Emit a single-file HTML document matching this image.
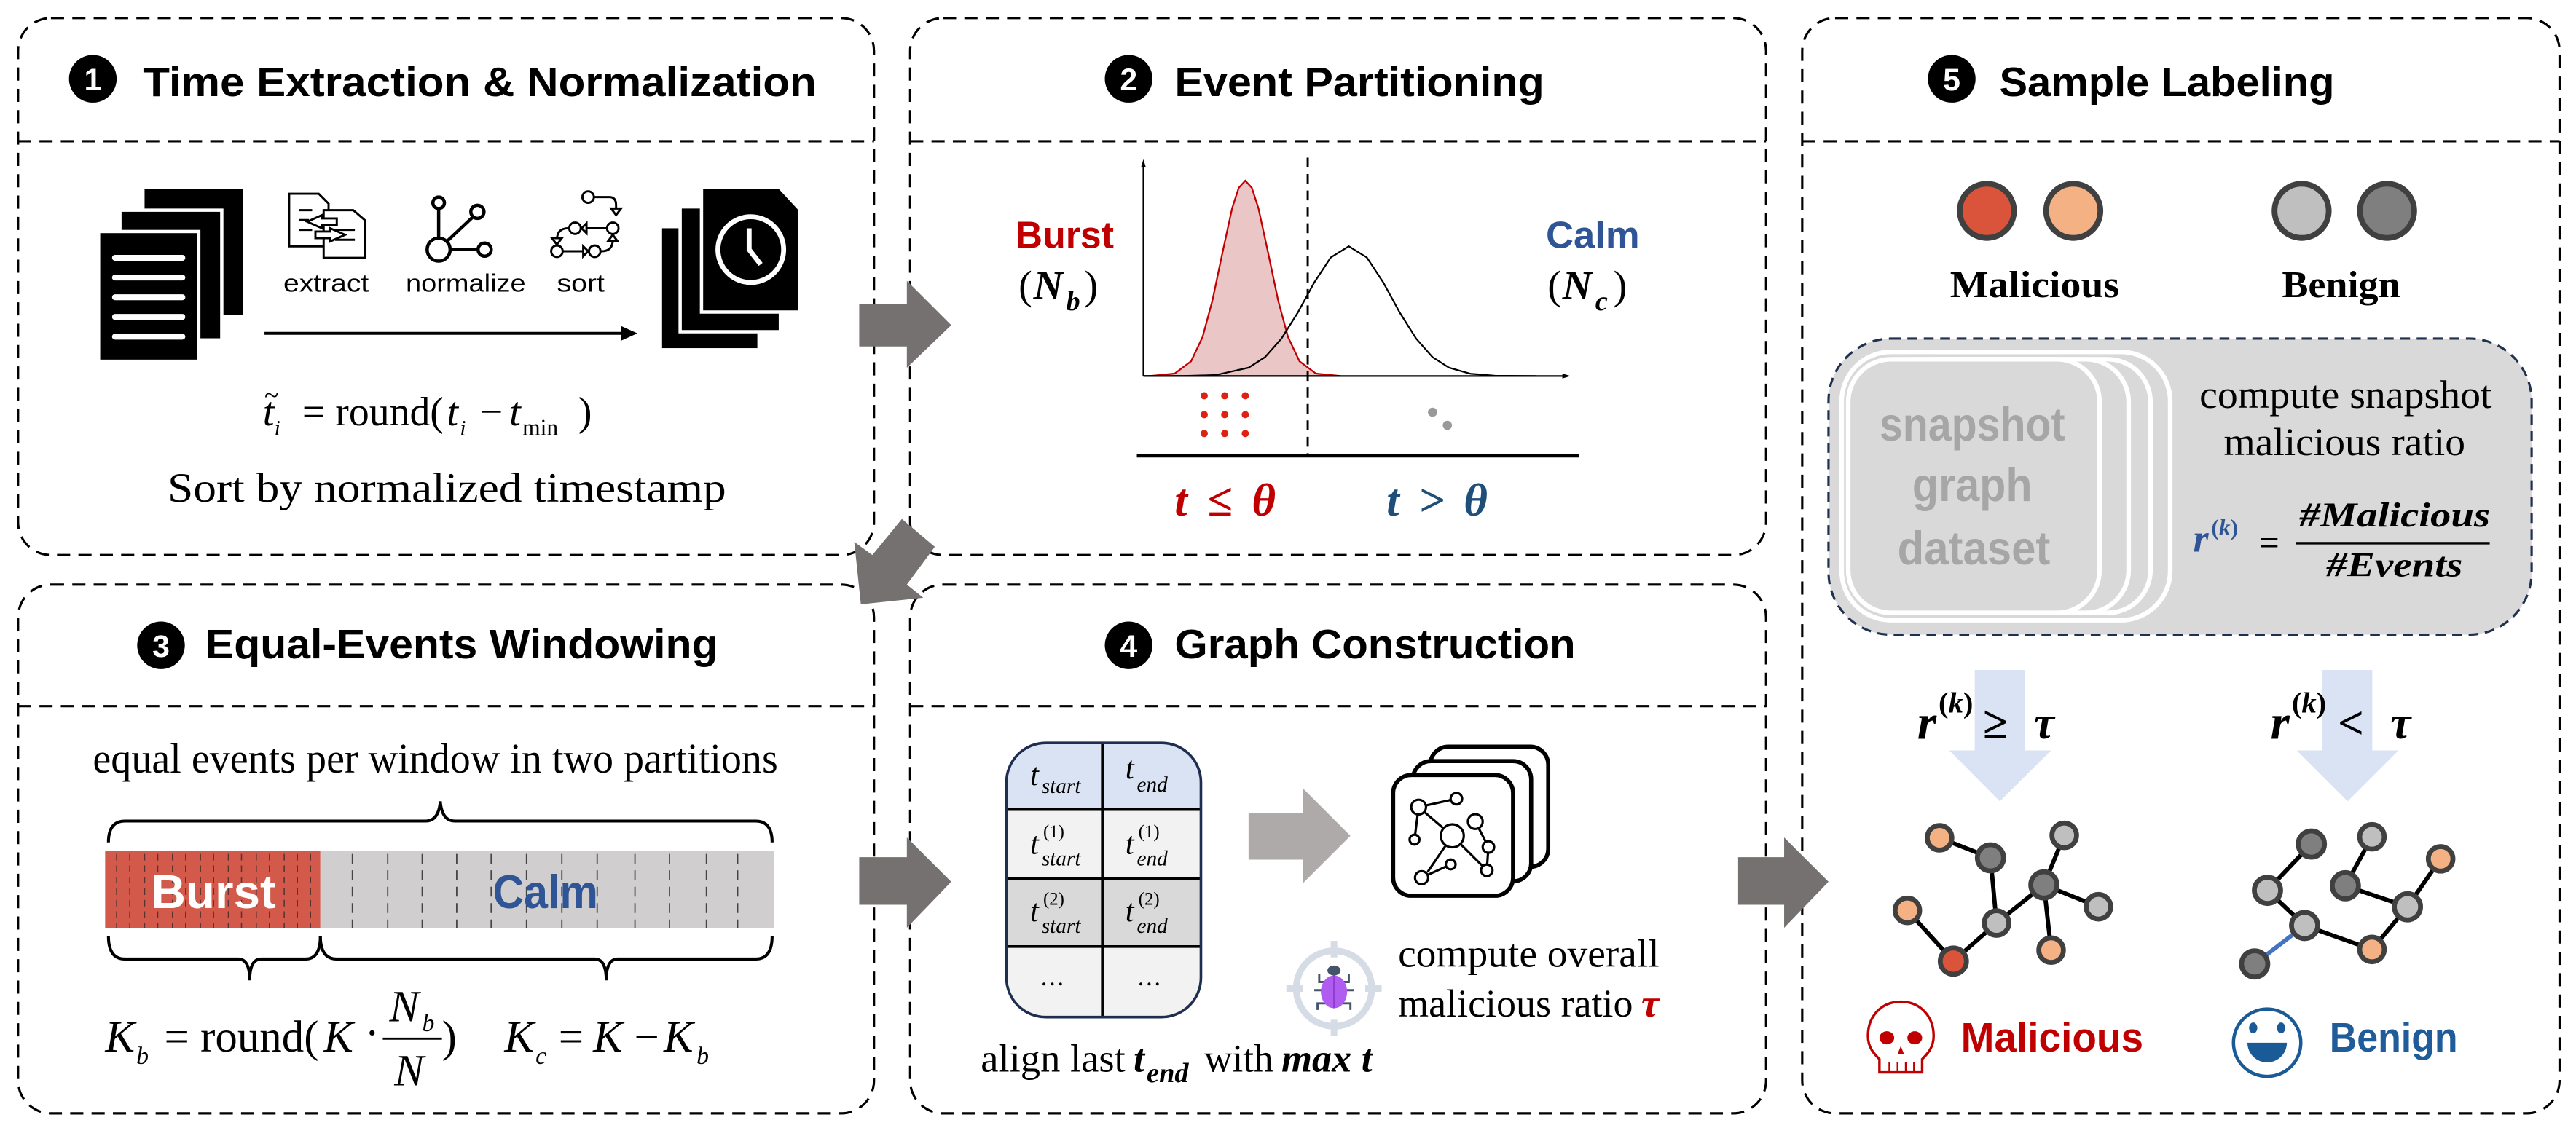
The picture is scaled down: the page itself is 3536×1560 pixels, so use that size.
<!DOCTYPE html>
<html><head><meta charset="utf-8"><style>
html,body{margin:0;padding:0;background:#fff;}
svg{display:block;}
.sans{font-family:"Liberation Sans",sans-serif;}
.serif{font-family:"Liberation Serif",serif;}
</style></head><body>
<svg width="3536" height="1560" viewBox="0 0 1568 691.8" preserveAspectRatio="none" xmlns="http://www.w3.org/2000/svg">
<rect x="0" y="0" width="1568" height="692" fill="#fff"/>
<!-- panels -->
<g fill="none" stroke="#000" stroke-width="1.4" stroke-dasharray="8,5">
<rect x="11" y="11" width="521" height="327" rx="20"/>
<line x1="11" y1="86" x2="532" y2="86"/>
<rect x="554" y="11" width="521" height="327" rx="20"/>
<line x1="554" y1="86" x2="1075" y2="86"/>
<rect x="11" y="356" width="521" height="322" rx="20"/>
<line x1="11" y1="430" x2="532" y2="430"/>
<rect x="554" y="356" width="521" height="322" rx="20"/>
<line x1="554" y1="430" x2="1075" y2="430"/>
<rect x="1097" y="11" width="461" height="667" rx="20"/>
<line x1="1097" y1="86" x2="1558" y2="86"/>
</g>
<!-- titles -->
<g class="sans" font-weight="bold" font-size="25" fill="#000">
<circle cx="56.5" cy="48" r="14.5"/><text x="56.5" y="55" font-size="19" fill="#fff" text-anchor="middle">1</text>
<text x="87" y="58.5" textLength="410" lengthAdjust="spacingAndGlyphs">Time Extraction &amp; Normalization</text>
<circle cx="687" cy="48" r="14.5"/><text x="687" y="55" font-size="19" fill="#fff" text-anchor="middle">2</text>
<text x="715" y="58.5" textLength="225" lengthAdjust="spacingAndGlyphs">Event Partitioning</text>
<circle cx="98" cy="393" r="14.5"/><text x="98" y="400" font-size="19" fill="#fff" text-anchor="middle">3</text>
<text x="125" y="401" textLength="312" lengthAdjust="spacingAndGlyphs">Equal-Events Windowing</text>
<circle cx="687" cy="393" r="14.5"/><text x="687" y="400" font-size="19" fill="#fff" text-anchor="middle">4</text>
<text x="715" y="401" textLength="244" lengthAdjust="spacingAndGlyphs">Graph Construction</text>
<circle cx="1188" cy="48" r="14.5"/><text x="1188" y="55" font-size="19" fill="#fff" text-anchor="middle">5</text>
<text x="1217" y="58.5" textLength="204" lengthAdjust="spacingAndGlyphs">Sample Labeling</text>
</g>

<!-- big connector arrows -->
<g fill="#767171">
<polygon points="523,185 552,185 552,171 579,198 552,224 552,211 523,211"/>
<polygon points="523,522 552,522 552,510 579,537 552,565 552,551 523,551"/>
<polygon points="1058,522 1086,522 1086,510 1113,537 1086,565 1086,551 1058,551"/>
<polygon points="549,316 569,333 552,356 562,364 524,368 520,330 531,338"/>
</g>

<!-- Panel 1 content -->
<g>
<rect x="88" y="115" width="60" height="77" fill="#000"/>
<rect x="72" y="127" width="64" height="81" fill="#fff"/>
<rect x="74" y="129" width="60" height="77" fill="#000"/>
<rect x="59" y="140" width="63" height="81" fill="#fff"/>
<rect x="61" y="142" width="59" height="77" fill="#000"/>
<g stroke="#fff" stroke-width="3.6" stroke-linecap="round">
<line x1="70" y1="157" x2="111" y2="157"/><line x1="70" y1="169" x2="111" y2="169"/>
<line x1="70" y1="181" x2="111" y2="181"/><line x1="70" y1="193" x2="111" y2="193"/>
<line x1="70" y1="205" x2="111" y2="205"/>
</g>
<g fill="#fff" stroke="#000" stroke-width="1.3">
<path d="M176,118 L194,118 L200,124 L200,150 L176,150 Z"/>
<path d="M197,128 L215,128 L222,134 L222,157 L197,157 Z"/>
<path d="M182,128 h8 M182,134 h6 M182,140 h8 M204,140 h12 M204,146 h12" fill="none"/>
<path d="M187,135 L196,131 L196,133 L205,133 L205,137 L196,137 L196,139 Z"/>
<path d="M210,143 L201,139 L201,141 L192,141 L192,145 L201,145 L201,147 Z"/>
</g>
<g fill="#fff" stroke="#000" stroke-width="2">
<line x1="267" y1="127" x2="267" y2="145"/><line x1="272" y1="147" x2="288" y2="132"/><line x1="274" y1="152" x2="291" y2="152"/>
<circle cx="267" cy="123.5" r="3.5"/><circle cx="290.6" cy="129" r="4"/><circle cx="267" cy="152" r="7"/><circle cx="295" cy="152" r="4"/>
</g>
<g fill="#fff" stroke="#000" stroke-width="1.3">
<circle cx="358" cy="120" r="3.5"/><path d="M362,120 h9 q4,0 4,5 v3"/><path d="M372,127 l3,4 l3,-4 z"/>
<circle cx="350" cy="139" r="3.5"/><circle cx="373" cy="139" r="3.5"/><path d="M369,139 h-12"/><path d="M357,136 l-3,3 l3,3 z"/>
<path d="M346,139 q-7,0 -7,7"/><path d="M336,145 l3,4 l3,-4 z"/>
<circle cx="339" cy="153" r="3.5"/><circle cx="362" cy="153" r="3.5"/><path d="M343,153 h12"/><path d="M355,150 l3,3 l-3,3 z"/>
<path d="M366,153 q7,0 7,-7"/><path d="M370,147 l3,-4 l3,4 z"/>
</g>
<g class="sans" font-size="15" fill="#000">
<text x="172.5" y="177.6" textLength="52" lengthAdjust="spacingAndGlyphs">extract</text>
<text x="247" y="177.6" textLength="73" lengthAdjust="spacingAndGlyphs">normalize</text>
<text x="339" y="177.6" textLength="29" lengthAdjust="spacingAndGlyphs">sort</text>
</g>
<line x1="161" y1="203" x2="380" y2="203" stroke="#000" stroke-width="1.8"/>
<polygon points="378,198.5 388,203 378,207.5" fill="#000"/>
<rect x="403" y="139" width="58" height="73" fill="#000"/>
<rect x="413" y="125" width="63" height="78" fill="#fff"/>
<rect x="415" y="127" width="59" height="74" fill="#000"/>
<path d="M426,113 L475,113 L488,127 L488,191 L426,191 Z" fill="#fff"/>
<path d="M428,115 L474,115 L486,128 L486,189 L428,189 Z" fill="#000"/>
<circle cx="457" cy="152" r="20" fill="none" stroke="#fff" stroke-width="3"/>
<polyline points="456,139 456,152 463,161" fill="none" stroke="#fff" stroke-width="3"/>
<g class="serif" fill="#000" font-size="25">
<text x="160" y="259" font-style="italic">t</text><text x="161" y="246" font-size="16">~</text>
<text x="167" y="265" font-size="13" font-style="italic">i</text>
<text x="184" y="259" textLength="86" lengthAdjust="spacingAndGlyphs">= round(</text>
<text x="272" y="259" font-style="italic">t</text><text x="280" y="265" font-size="13" font-style="italic">i</text>
<text x="292" y="259">−</text>
<text x="310" y="259" font-style="italic">t</text><text x="318" y="265" font-size="14">min</text>
<text x="352" y="259">)</text>
<text x="102" y="305.5" font-size="25.5" textLength="340" lengthAdjust="spacingAndGlyphs">Sort by normalized timestamp</text>
</g>
</g>

<!-- Panel 2 content -->
<g>
<polygon points="696,229 700,229 715,227.5 725,220 732,205.2 738,183 744,154.4 750,126.8 754,114.4 758,110 762,114.4 766,126.8 772,154.4 778,183 784,205.2 791,220 801,227.5 816,229" fill="#ebc6c6" stroke="#c00000" stroke-width="1"/>
<polyline points="696,229 720,229 740,228.4 760,223.9 770,217.5 780,206.2 790,190.3 800,172 810,156.8 821,150 832,156.8 842,172 852,190.3 862,206.2 872,217.5 882,223.9 895,227.6 910,228.8 935,229" fill="none" stroke="#000" stroke-width="1"/>
<line x1="696" y1="229" x2="696" y2="100" stroke="#000" stroke-width="1"/>
<polygon points="694.5,102 696,97 697.5,102" fill="#000"/>
<line x1="696" y1="229" x2="953" y2="229" stroke="#000" stroke-width="1"/>
<polygon points="951,227.5 956,229 951,230.5" fill="#000"/>
<line x1="796" y1="96" x2="796" y2="277" stroke="#000" stroke-width="1.3" stroke-dasharray="6,4"/>
<line x1="692" y1="277.5" x2="961" y2="277.5" stroke="#000" stroke-width="2.2"/>
<g fill="#e02010">
<circle cx="733" cy="241" r="2.2"/><circle cx="745.5" cy="241" r="2.2"/><circle cx="758" cy="241" r="2.2"/>
<circle cx="733" cy="252.5" r="2.2"/><circle cx="745.5" cy="252.5" r="2.2"/><circle cx="758" cy="252.5" r="2.2"/>
<circle cx="733" cy="264" r="2.2"/><circle cx="745.5" cy="264" r="2.2"/><circle cx="758" cy="264" r="2.2"/>
</g>
<circle cx="872" cy="251" r="2.8" fill="#999"/><circle cx="881" cy="259" r="2.8" fill="#999"/>
<text class="sans" x="618" y="151" font-size="23" font-weight="bold" fill="#c00000" textLength="60" lengthAdjust="spacingAndGlyphs">Burst</text>
<text class="sans" x="941" y="151" font-size="23" font-weight="bold" fill="#2f5597" textLength="57" lengthAdjust="spacingAndGlyphs">Calm</text>
<g class="serif" font-size="25" fill="#000">
<text x="620" y="182">(</text><text x="629" y="182" font-style="italic" font-weight="bold">N</text><text x="649" y="189" font-size="17" font-style="italic" font-weight="bold">b</text><text x="660" y="182">)</text>
<text x="942" y="182">(</text><text x="951" y="182" font-style="italic" font-weight="bold">N</text><text x="971" y="189" font-size="17" font-style="italic" font-weight="bold">c</text><text x="982" y="182">)</text>
</g>
<g class="serif" font-size="28" font-weight="bold" font-style="italic">
<text x="715" y="314" fill="#c00000">t</text><text x="735" y="314" fill="#c00000" font-style="normal">≤</text><text x="762" y="314" fill="#c00000">θ</text>
<text x="844" y="314" fill="#1f4e79">t</text><text x="864" y="314" fill="#1f4e79" font-style="normal">&gt;</text><text x="891" y="314" fill="#1f4e79">θ</text>
</g>
</g>

<!-- Panel 3 content -->
<g>
<text class="serif" x="56.5" y="470.5" font-size="26" textLength="417" lengthAdjust="spacingAndGlyphs">equal events per window in two partitions</text>
<g fill="none" stroke="#000" stroke-width="1.8">
<path d="M66,513 Q66,500 76,500 L259,500 Q267,500 268,488 Q269,500 277,500 L460,500 Q470,500 470,513"/>
<path d="M66,570 Q66,584 76,584 L145,584 Q152,584 152,597 Q152,584 159,584 L186,584 Q195,584 195,570"/>
<path d="M195,570 Q195,584 205,584 L362,584 Q369,584 369,597 Q369,584 376,584 L460,584 Q470,584 470,570"/>
</g>
<rect x="64" y="518.4" width="131" height="47" fill="#d35a4b"/>
<rect x="195" y="518.4" width="276" height="47" fill="#d0cece"/>
<g stroke="#3a2a2a" stroke-width="0.7" stroke-dasharray="4,3" opacity="0.8">
<line x1="71" y1="520" x2="71" y2="565"/><line x1="79" y1="520" x2="79" y2="565"/><line x1="88" y1="520" x2="88" y2="565"/><line x1="96" y1="520" x2="96" y2="565"/><line x1="105" y1="520" x2="105" y2="565"/><line x1="113" y1="520" x2="113" y2="565"/><line x1="122" y1="520" x2="122" y2="565"/><line x1="130" y1="520" x2="130" y2="565"/><line x1="139" y1="520" x2="139" y2="565"/><line x1="147" y1="520" x2="147" y2="565"/><line x1="156" y1="520" x2="156" y2="565"/><line x1="164" y1="520" x2="164" y2="565"/><line x1="173" y1="520" x2="173" y2="565"/><line x1="181" y1="520" x2="181" y2="565"/><line x1="189" y1="520" x2="189" y2="565"/>
</g>
<g stroke="#444" stroke-width="0.8" stroke-dasharray="6,4">
<line x1="214.5" y1="520" x2="214.5" y2="565"/><line x1="236" y1="520" x2="236" y2="565"/><line x1="257" y1="520" x2="257" y2="565"/><line x1="278" y1="520" x2="278" y2="565"/><line x1="299" y1="520" x2="299" y2="565"/><line x1="320.5" y1="520" x2="320.5" y2="565"/><line x1="342" y1="520" x2="342" y2="565"/><line x1="363.5" y1="520" x2="363.5" y2="565"/><line x1="386.5" y1="520" x2="386.5" y2="565"/><line x1="407.5" y1="520" x2="407.5" y2="565"/><line x1="430" y1="520" x2="430" y2="565"/><line x1="449" y1="520" x2="449" y2="565"/>
</g>
<text class="sans" x="92" y="553" font-size="29" font-weight="bold" fill="#fff" textLength="76" lengthAdjust="spacingAndGlyphs">Burst</text>
<text class="sans" x="300" y="553" font-size="29" font-weight="bold" fill="#2f5597" textLength="64" lengthAdjust="spacingAndGlyphs">Calm</text>
<g class="serif" font-size="27" fill="#000">
<text x="64" y="640.4" font-style="italic">K</text><text x="83" y="648" font-size="15" font-style="italic">b</text>
<text x="100" y="640.4">=</text><text x="122" y="640.4" textLength="72" lengthAdjust="spacingAndGlyphs">round(</text>
<text x="197" y="640.4" font-style="italic">K</text><text x="222" y="638">·</text>
<text x="237" y="622" font-style="italic">N</text><text x="257" y="628" font-size="15" font-style="italic">b</text>
<line x1="233" y1="632.5" x2="269" y2="632.5" stroke="#000" stroke-width="1.3"/>
<text x="240" y="661" font-style="italic">N</text>
<text x="269" y="640.4">)</text>
<text x="307" y="640.4" font-style="italic">K</text><text x="326" y="648" font-size="15" font-style="italic">c</text>
<text x="340" y="640.4">=</text><text x="361" y="640.4" font-style="italic">K</text>
<text x="386" y="640.4">−</text><text x="404" y="640.4" font-style="italic">K</text><text x="424" y="648" font-size="15" font-style="italic">b</text>
</g>
</g>

<!-- Panel 4 content -->
<g>
<clipPath id="tbl"><rect x="612.6" y="452.4" width="118.4" height="167" rx="24"/></clipPath>
<g clip-path="url(#tbl)">
<rect x="612" y="452" width="120" height="41" fill="#dae3f3"/>
<rect x="612" y="493" width="120" height="42" fill="#f2f2f2"/>
<rect x="612" y="535" width="120" height="41.4" fill="#d9d9d9"/>
<rect x="612" y="576.4" width="120" height="44" fill="#f2f2f2"/>
</g>
<g stroke="#000" stroke-width="1.6">
<line x1="612.6" y1="493" x2="731" y2="493"/><line x1="612.6" y1="535" x2="731" y2="535"/><line x1="612.6" y1="576.4" x2="731" y2="576.4"/>
<line x1="671" y1="452.4" x2="671" y2="619.5"/>
</g>
<rect x="612.6" y="452.4" width="118.4" height="167" rx="24" fill="none" stroke="#1f2d4f" stroke-width="1.6"/>
<g class="serif" font-style="italic" fill="#000">
<text x="627" y="478" font-size="19">t</text><text x="634" y="483" font-size="13">start</text>
<text x="685" y="474" font-size="19">t</text><text x="692" y="482" font-size="13">end</text>
<text x="627" y="520" font-size="19">t</text><text x="635" y="510" font-size="11" font-style="normal">(1)</text><text x="634" y="527" font-size="13">start</text>
<text x="685" y="520" font-size="19">t</text><text x="693" y="510" font-size="11" font-style="normal">(1)</text><text x="692" y="527" font-size="13">end</text>
<text x="627" y="561" font-size="19">t</text><text x="635" y="551" font-size="11" font-style="normal">(2)</text><text x="634" y="568" font-size="13">start</text>
<text x="685" y="561" font-size="19">t</text><text x="693" y="551" font-size="11" font-style="normal">(2)</text><text x="692" y="568" font-size="13">end</text>
<text x="633" y="600" font-size="15" font-style="normal">…</text><text x="692" y="600" font-size="15" font-style="normal">…</text>
</g>
<polygon points="760,495 793,495 793,480 822,509 793,538 793,523.5 760,523.5" fill="#aeaaaa"/>
<g fill="#fff" stroke="#000" stroke-width="2.5">
<rect x="870.6" y="454.7" width="71.8" height="73.2" rx="11"/>
<rect x="860" y="463.5" width="72" height="73.2" rx="11"/>
<rect x="848" y="472" width="73" height="73.5" rx="11"/>
</g>
<g stroke="#000" stroke-width="1.4" fill="#fff">
<line x1="863.5" y1="491.5" x2="886.5" y2="486.4"/><line x1="863.5" y1="491.5" x2="884" y2="509"/><line x1="863.5" y1="491.5" x2="861" y2="511.3"/>
<line x1="884" y1="509" x2="869" y2="531"/><line x1="884" y1="509" x2="905" y2="530"/><line x1="898" y1="500.3" x2="906" y2="515.8"/><line x1="906" y1="515.8" x2="905" y2="530"/><line x1="865.3" y1="534.5" x2="883" y2="526.4"/>
<circle cx="863.5" cy="491.5" r="4.5"/><circle cx="886.5" cy="486.4" r="3.5"/><circle cx="884" cy="509" r="7"/><circle cx="898" cy="500.3" r="4.5"/><circle cx="861" cy="511.3" r="3"/><circle cx="906" cy="515.8" r="3.5"/><circle cx="865.3" cy="534.5" r="4"/><circle cx="883" cy="526.4" r="3"/><circle cx="905" cy="530" r="3.5"/>
</g>
<circle cx="812" cy="602" r="23" fill="none" stroke="#d6dce5" stroke-width="4"/>
<g stroke="#d6dce5" stroke-width="4"><line x1="812" y1="573" x2="812" y2="583"/><line x1="812" y1="621" x2="812" y2="631"/><line x1="783" y1="602" x2="793" y2="602"/><line x1="831" y1="602" x2="841" y2="602"/></g>
<g stroke="#44546a" stroke-width="1.3" fill="none">
<path d="M803,593 v5 h4 M821,593 v5 h-4 M800,603 h7 M824,603 h-7 M802,615 v-4 h5 M822,615 v-4 h-5"/>
</g>
<ellipse cx="812" cy="591" rx="4" ry="3" fill="#44546a"/>
<ellipse cx="812" cy="604" rx="8" ry="10" fill="#b05cf0"/>
<path d="M812,594 v20" stroke="#8e3fd0" stroke-width="1"/>
<g class="serif" font-size="24" fill="#000">
<text x="851" y="588.6" textLength="159" lengthAdjust="spacingAndGlyphs">compute overall</text>
<text x="851" y="619" textLength="143" lengthAdjust="spacingAndGlyphs">malicious ratio</text>
<text x="999" y="619" fill="#c00000" font-weight="bold" font-style="italic">τ</text>
<text x="597" y="652.5" textLength="88" lengthAdjust="spacingAndGlyphs">align last</text>
<text x="690" y="652.5" font-weight="bold" font-style="italic">t</text><text x="698" y="659" font-size="17" font-weight="bold" font-style="italic">end</text>
<text x="733" y="652.5" textLength="42" lengthAdjust="spacingAndGlyphs">with</text>
<text x="780" y="652.5" font-weight="bold" font-style="italic">max t</text>
</g>
</g>

<!-- Panel 5 content -->
<g stroke="#404040" stroke-width="3.5">
<circle cx="1209.4" cy="128.4" r="16.5" fill="#d9543a"/>
<circle cx="1262" cy="128.4" r="16.5" fill="#f4b183"/>
<circle cx="1401" cy="128.4" r="16.5" fill="#bfbfbf"/>
<circle cx="1453" cy="128.4" r="16.5" fill="#7f7f7f"/>
</g>
<g class="serif" font-weight="bold" font-size="23" fill="#000">
<text x="1187" y="181" textLength="103" lengthAdjust="spacingAndGlyphs">Malicious</text>
<text x="1389" y="181" textLength="72" lengthAdjust="spacingAndGlyphs">Benign</text>
</g>
<rect x="1113" y="206.2" width="428" height="180.3" rx="38" fill="#d9d9d9" stroke="#1f3050" stroke-width="1.4" stroke-dasharray="6,4"/>
<g fill="#d9d9d9" stroke="#fff" stroke-width="2.8">
<rect x="1121" y="214.3" width="200" height="163.4" rx="30"/>
<rect x="1150" y="218.8" width="159" height="154.4" rx="26"/>
<rect x="1138" y="218.8" width="157.7" height="154.4" rx="26"/>
<rect x="1125" y="218.8" width="153" height="154.4" rx="26"/>
</g>
<g class="sans" font-weight="bold" font-size="29" fill="#a6a6a6">
<text x="1144" y="268.3" textLength="113" lengthAdjust="spacingAndGlyphs">snapshot</text>
<text x="1164" y="305.2" textLength="73" lengthAdjust="spacingAndGlyphs">graph</text>
<text x="1155" y="343.7" textLength="93" lengthAdjust="spacingAndGlyphs">dataset</text>
</g>
<g class="serif" fill="#000" font-size="24">
<text x="1338.8" y="248.3" textLength="178" lengthAdjust="spacingAndGlyphs">compute snapshot</text>
<text x="1353.6" y="277.1" textLength="147" lengthAdjust="spacingAndGlyphs">malicious ratio</text>
<text x="1335" y="336" font-size="24" font-weight="bold" font-style="italic" fill="#2f5597">r</text>
<text x="1346" y="326" font-size="14" font-weight="bold" fill="#2f5597">(<tspan font-style="italic">k</tspan>)</text>
<text x="1375" y="338" font-size="22">=</text>
<text x="1399.7" y="320.7" font-size="21" font-weight="bold" font-style="italic" textLength="116" lengthAdjust="spacingAndGlyphs">#Malicious</text>
<line x1="1397.6" y1="330.8" x2="1515.5" y2="330.8" stroke="#000" stroke-width="1.5"/>
<text x="1416" y="351" font-size="21" font-weight="bold" font-style="italic" textLength="83" lengthAdjust="spacingAndGlyphs">#Events</text>
</g>
<polygon points="1202,408 1232.6,408 1232.6,457 1248.5,457 1217.3,488 1186.5,457 1202,457" fill="#dae3f3"/>
<polygon points="1413.7,408 1444,408 1444,457 1460,457 1429,488 1398,457 1413.7,457" fill="#dae3f3"/>
<g class="serif" font-weight="bold" fill="#000">
<text x="1167" y="450" font-size="30" font-style="italic">r</text>
<text x="1180" y="434" font-size="18">(<tspan font-style="italic">k</tspan>)</text>
<text x="1207" y="449.6" font-size="28">≥</text>
<text x="1238" y="449.6" font-size="28" font-style="italic">τ</text>
<text x="1382" y="450" font-size="30" font-style="italic">r</text>
<text x="1395" y="434" font-size="18">(<tspan font-style="italic">k</tspan>)</text>
<text x="1423" y="449.6" font-size="28">&lt;</text>
<text x="1455" y="449.6" font-size="28" font-style="italic">τ</text>
</g>
<g stroke="#000" stroke-width="2.6">
<line x1="1180.6" y1="510.2" x2="1211.6" y2="522.4"/><line x1="1211.6" y1="522.4" x2="1215.3" y2="562.1"/>
<line x1="1256.5" y1="508.7" x2="1244.1" y2="538.9"/><line x1="1244.1" y1="538.9" x2="1277.3" y2="552.2"/>
<line x1="1244.1" y1="538.9" x2="1215.3" y2="562.1"/><line x1="1244.1" y1="538.9" x2="1248.5" y2="578.6"/>
<line x1="1161" y1="554.4" x2="1189" y2="585.3"/><line x1="1189" y1="585.3" x2="1215.3" y2="562.1"/>
</g>
<g stroke="#404040" stroke-width="3">
<circle cx="1180.6" cy="510.2" r="7.5" fill="#f4b183"/><circle cx="1211.6" cy="522.4" r="8" fill="#7f7f7f"/>
<circle cx="1256.5" cy="508.7" r="7.5" fill="#bfbfbf"/><circle cx="1244.1" cy="538.9" r="8" fill="#7f7f7f"/>
<circle cx="1277.3" cy="552.2" r="7.5" fill="#bfbfbf"/><circle cx="1161" cy="554.4" r="7.5" fill="#f4b183"/>
<circle cx="1215.3" cy="562.1" r="7.5" fill="#bfbfbf"/><circle cx="1189" cy="585.3" r="8" fill="#d9543a"/>
<circle cx="1248.5" cy="578.6" r="7.5" fill="#f4b183"/>
</g>
<g stroke="#000" stroke-width="2.6">
<line x1="1406.9" y1="514" x2="1380.2" y2="542.2"/><line x1="1380.2" y1="542.2" x2="1402.8" y2="563.6"/>
<line x1="1443.8" y1="509.6" x2="1427.6" y2="539.4"/><line x1="1427.6" y1="539.4" x2="1465.4" y2="552.2"/>
<line x1="1465.4" y1="552.2" x2="1485.6" y2="523"/><line x1="1402.8" y1="563.6" x2="1443.8" y2="578.2"/>
<line x1="1443.8" y1="578.2" x2="1465.4" y2="552.2"/>
</g>
<line x1="1402.8" y1="563.6" x2="1372.4" y2="587" stroke="#4472c4" stroke-width="2.6"/>
<g stroke="#404040" stroke-width="3">
<circle cx="1406.9" cy="514" r="8" fill="#7f7f7f"/><circle cx="1443.8" cy="509.6" r="7.5" fill="#bfbfbf"/>
<circle cx="1485.6" cy="523" r="7.5" fill="#f4b183"/><circle cx="1380.2" cy="542.2" r="8" fill="#bfbfbf"/>
<circle cx="1427.6" cy="539.4" r="8" fill="#7f7f7f"/><circle cx="1465.4" cy="552.2" r="8" fill="#bfbfbf"/>
<circle cx="1402.8" cy="563.6" r="8" fill="#bfbfbf"/><circle cx="1443.8" cy="578.2" r="7.5" fill="#f4b183"/>
<circle cx="1372.4" cy="587" r="8" fill="#7f7f7f"/>
</g>
<path d="M1157,610 C1145,610 1137,619 1137,631 C1137,638 1141,642 1144,645 L1144,653 L1170,653 L1170,645 C1173,642 1177,638 1177,631 C1177,619 1169,610 1157,610 Z" fill="none" stroke="#c00000" stroke-width="1.5"/>
<path d="M1150,647 v6 M1155,647 v6 M1160,647 v6 M1165,647 v6" stroke="#c00000" stroke-width="1"/>
<ellipse cx="1148.5" cy="632" rx="4.5" ry="4" fill="#c00000"/><ellipse cx="1165.5" cy="632" rx="4.5" ry="4" fill="#c00000"/>
<path d="M1157,637 l-2,5 h4 z" fill="#c00000"/>
<text class="sans" x="1193.6" y="640.4" font-size="25" font-weight="bold" fill="#c00000" textLength="111" lengthAdjust="spacingAndGlyphs">Malicious</text>
<circle cx="1380" cy="635" r="20.5" fill="#fff" stroke="#1a5a96" stroke-width="2"/>
<ellipse cx="1371.5" cy="626" rx="2.5" ry="3.3" fill="#1a5a96"/><ellipse cx="1388.5" cy="626" rx="2.5" ry="3.3" fill="#1a5a96"/>
<path d="M1368,635 h24 a12,12 0 0 1 -24,0 z" fill="#1a5a96"/>
<text class="sans" x="1418" y="640.4" font-size="25" font-weight="bold" fill="#1f5c99" textLength="78" lengthAdjust="spacingAndGlyphs">Benign</text>
</svg>
</body></html>
